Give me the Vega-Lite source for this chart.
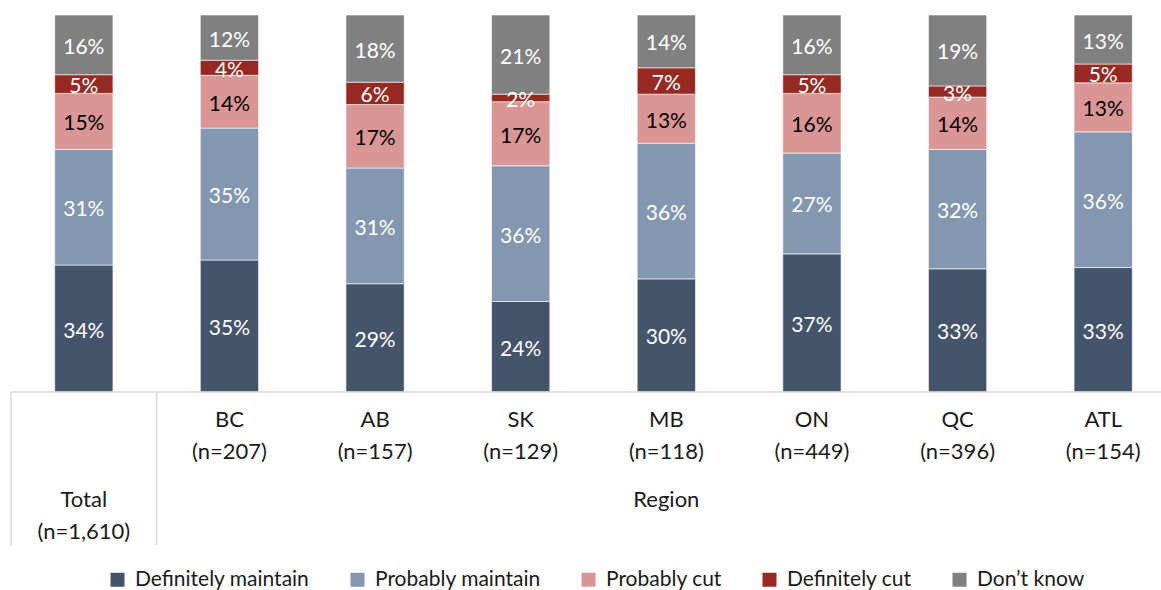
{
  "$schema": "https://vega.github.io/schema/vega-lite/v6.json",
  "autosize": "none",
  "width": 1150,
  "height": 530,
  "padding": {"left": 11, "top": 15, "right": 0, "bottom": 45},
  "background": "white",
  "config": {"view": {"stroke": null}, "font": "Lato"},
  "datasets": {
    "main": [
      {"region": "Total", "cat": "Definitely maintain", "pct": 34},
      {"region": "Total", "cat": "Probably maintain", "pct": 31},
      {"region": "Total", "cat": "Probably cut", "pct": 15},
      {"region": "Total", "cat": "Definitely cut", "pct": 5},
      {"region": "Total", "cat": "Don’t know", "pct": 16},
      {"region": "BC", "cat": "Definitely maintain", "pct": 35},
      {"region": "BC", "cat": "Probably maintain", "pct": 35},
      {"region": "BC", "cat": "Probably cut", "pct": 14},
      {"region": "BC", "cat": "Definitely cut", "pct": 4},
      {"region": "BC", "cat": "Don’t know", "pct": 12},
      {"region": "AB", "cat": "Definitely maintain", "pct": 29},
      {"region": "AB", "cat": "Probably maintain", "pct": 31},
      {"region": "AB", "cat": "Probably cut", "pct": 17},
      {"region": "AB", "cat": "Definitely cut", "pct": 6},
      {"region": "AB", "cat": "Don’t know", "pct": 18},
      {"region": "SK", "cat": "Definitely maintain", "pct": 24},
      {"region": "SK", "cat": "Probably maintain", "pct": 36},
      {"region": "SK", "cat": "Probably cut", "pct": 17},
      {"region": "SK", "cat": "Definitely cut", "pct": 2},
      {"region": "SK", "cat": "Don’t know", "pct": 21},
      {"region": "MB", "cat": "Definitely maintain", "pct": 30},
      {"region": "MB", "cat": "Probably maintain", "pct": 36},
      {"region": "MB", "cat": "Probably cut", "pct": 13},
      {"region": "MB", "cat": "Definitely cut", "pct": 7},
      {"region": "MB", "cat": "Don’t know", "pct": 14},
      {"region": "ON", "cat": "Definitely maintain", "pct": 37},
      {"region": "ON", "cat": "Probably maintain", "pct": 27},
      {"region": "ON", "cat": "Probably cut", "pct": 16},
      {"region": "ON", "cat": "Definitely cut", "pct": 5},
      {"region": "ON", "cat": "Don’t know", "pct": 16},
      {"region": "QC", "cat": "Definitely maintain", "pct": 33},
      {"region": "QC", "cat": "Probably maintain", "pct": 32},
      {"region": "QC", "cat": "Probably cut", "pct": 14},
      {"region": "QC", "cat": "Definitely cut", "pct": 3},
      {"region": "QC", "cat": "Don’t know", "pct": 19},
      {"region": "ATL", "cat": "Definitely maintain", "pct": 33},
      {"region": "ATL", "cat": "Probably maintain", "pct": 36},
      {"region": "ATL", "cat": "Probably cut", "pct": 13},
      {"region": "ATL", "cat": "Definitely cut", "pct": 5},
      {"region": "ATL", "cat": "Don’t know", "pct": 13}
    ],
    "labels": [
      {"region": "BC", "name": "BC", "n": "(n=207)"},
      {"region": "AB", "name": "AB", "n": "(n=157)"},
      {"region": "SK", "name": "SK", "n": "(n=129)"},
      {"region": "MB", "name": "MB", "n": "(n=118)"},
      {"region": "ON", "name": "ON", "n": "(n=449)"},
      {"region": "QC", "name": "QC", "n": "(n=396)"},
      {"region": "ATL", "name": "ATL", "n": "(n=154)"}
    ],
    "total": [
      {"region": "Total", "name": "Total", "n": "(n=1,610)"}
    ],
    "group": [
      {"region": "MB", "name": "Region"}
    ]
  },
  "resolve": {"scale": {"color": "independent"}},
  "layer": [
    {
      "data": {"name": "main"},
      "transform": [{"calculate": "indexof(['Definitely maintain', 'Probably maintain', 'Probably cut', 'Definitely cut', 'Don’t know'], datum.cat)", "as": "k"}],
      "mark": {"type": "bar", "stroke": "white", "strokeWidth": 0.6},
      "encoding": {
        "x": {"field": "region", "type": "nominal", "sort": ["Total", "BC", "AB", "SK", "MB", "ON", "QC", "ATL"],
              "scale": {"range": [0, 1165], "paddingInner": 0.6, "paddingOuter": 0.3}, "axis": null},
        "y": {"field": "pct", "type": "quantitative", "stack": "normalize",
              "scale": {"domain": [-0.406, 1], "nice": false, "zero": false}, "axis": null},
        "order": {"field": "k", "type": "quantitative", "sort": "ascending"},
        "color": {"field": "cat", "type": "nominal",
                  "sort": ["Definitely maintain", "Probably maintain", "Probably cut", "Definitely cut", "Don’t know"],
                  "scale": {"domain": ["Definitely maintain", "Probably maintain", "Probably cut", "Definitely cut", "Don’t know"],
                            "range": ["#44546A", "#8497B0", "#DA9694", "#962A22", "#808080"]},
                  "legend": {"title": null, "orient": "none", "direction": "horizontal", "legendX": 96, "legendY": 554,
                             "symbolType": "square", "symbolSize": 196, "symbolStrokeWidth": 0,
                             "labelFontSize": 21, "labelFont": "Lato", "labelColor": "#1a1a1a",
                             "labelOffset": 7, "columnPadding": 37, "labelLimit": 300}}
      }
    },
    {
      "data": {"name": "main"},
      "transform": [{"calculate": "indexof(['Definitely maintain', 'Probably maintain', 'Probably cut', 'Definitely cut', 'Don’t know'], datum.cat)", "as": "k"}],
      "mark": {"type": "text", "fontSize": 21, "font": "Lato", "baseline": "middle", "dy": 3, "text": {"expr": "datum.pct + '%'"}},
      "encoding": {
        "x": {"field": "region", "type": "nominal", "sort": ["Total", "BC", "AB", "SK", "MB", "ON", "QC", "ATL"]},
        "y": {"field": "pct", "type": "quantitative", "stack": "normalize", "bandPosition": 0.5},
        "order": {"field": "k", "type": "quantitative", "sort": "ascending"},
        "color": {"field": "cat", "type": "nominal",
                  "sort": ["Definitely maintain", "Probably maintain", "Probably cut", "Definitely cut", "Don’t know"],
                  "scale": {"domain": ["Definitely maintain", "Probably maintain", "Probably cut", "Definitely cut", "Don’t know"],
                            "range": ["#ffffff", "#ffffff", "#000000", "#ffffff", "#ffffff"]},
                  "legend": null}
      }
    },
    {
      "data": {"values": [{}]},
      "mark": {"type": "rule", "color": "#D9D9D9", "strokeWidth": 1.5},
      "encoding": {"y": {"datum": 0}}
    },
    {
      "data": {"values": [{"region": "Total"}, {"region": "BC"}]},
      "mark": {"type": "rule", "color": "#D9D9D9", "strokeWidth": 1.5},
      "encoding": {
        "x": {"field": "region", "type": "nominal", "sort": ["Total", "BC", "AB", "SK", "MB", "ON", "QC", "ATL"], "bandPosition": -0.75},
        "y": {"datum": 0},
        "y2": {"datum": -0.406}
      }
    },
    {
      "data": {"name": "labels"},
      "mark": {"type": "text", "fontSize": 22, "font": "Lato", "color": "#1a1a1a", "baseline": "middle", "lineHeight": 32,
               "text": {"expr": "[datum.name, datum.n]"}},
      "encoding": {
        "x": {"field": "region", "type": "nominal", "sort": ["Total", "BC", "AB", "SK", "MB", "ON", "QC", "ATL"]},
        "y": {"datum": -0.074}
      }
    },
    {
      "data": {"name": "total"},
      "mark": {"type": "text", "fontSize": 22, "font": "Lato", "color": "#1a1a1a", "baseline": "middle", "lineHeight": 32,
               "text": {"expr": "[datum.name, datum.n]"}},
      "encoding": {
        "x": {"field": "region", "type": "nominal", "sort": ["Total", "BC", "AB", "SK", "MB", "ON", "QC", "ATL"]},
        "y": {"datum": -0.286}
      }
    },
    {
      "data": {"name": "group"},
      "mark": {"type": "text", "fontSize": 22, "font": "Lato", "color": "#1a1a1a", "baseline": "middle"},
      "encoding": {
        "x": {"field": "region", "type": "nominal", "sort": ["Total", "BC", "AB", "SK", "MB", "ON", "QC", "ATL"]},
        "y": {"datum": -0.286},
        "text": {"field": "name"}
      }
    }
  ]
}
